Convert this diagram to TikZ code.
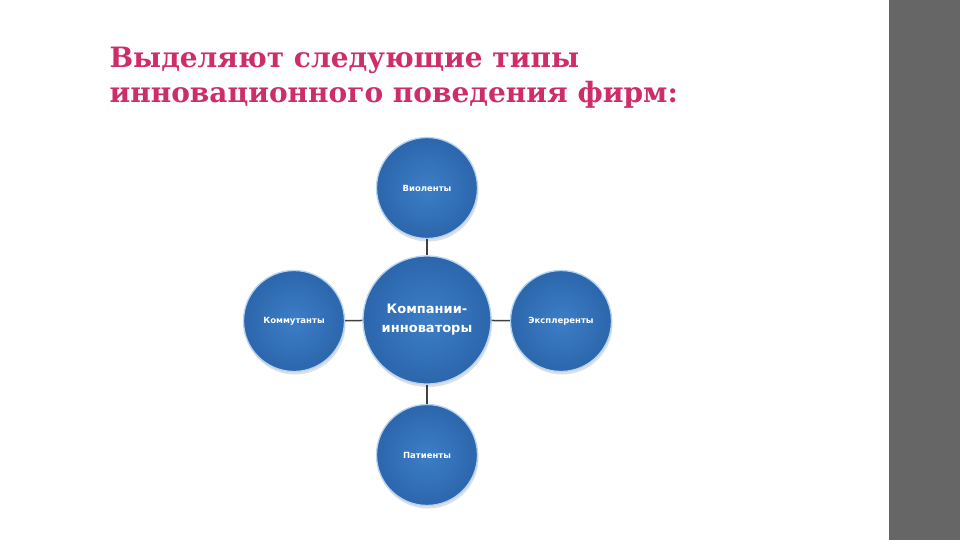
\documentclass[tikz,border=0pt]{standalone}
\usepackage{fontspec}
\setmainfont{DejaVu Serif}
\newfontfamily\circfont{DejaVu Sans}
\usetikzlibrary{shadows}
\definecolor{titlepink}{RGB}{205,45,105}
\definecolor{ballblue}{RGB}{60,126,198}
\definecolor{balldark}{RGB}{44,102,172}
\definecolor{ballrim}{RGB}{180,212,242}
\definecolor{bargray}{RGB}{102,102,102}
\tikzset{
  ball/.style={circle, draw=ballrim, line width=1.3pt, fill=ballblue,
    inner color=ballblue, outer color=balldark,
    text=white, font=\circfont\bfseries\fontsize{8.5}{10}\selectfont,
    align=center, inner sep=0pt,
    drop shadow={shadow xshift=1pt, shadow yshift=-3pt, opacity=0.25}},
  link/.style={draw=black!75, line width=1.5pt}
}
\begin{document}
\begin{tikzpicture}[x=1pt,y=-1pt]
\useasboundingbox (0,0) rectangle (960,540);
\fill[white] (0,0) rectangle (960,540);
\fill[bargray] (889,0) rectangle (960,540);
\node[anchor=base west, text=titlepink, font=\bfseries\fontsize{28}{33}\selectfont, align=left] (title) at (106,68) {Выделяют следующие типы};
\node[anchor=base west, text=titlepink, font=\bfseries\fontsize{28}{33}\selectfont, align=left] (title2) at (106,103) {инновационного поведения фирм:};

\node[ball, minimum size=128pt, font=\circfont\bfseries\fontsize{13}{19}\selectfont] (c) at (427,320) {Компании-\\инноваторы};
\node[ball, minimum size=101pt] (t) at (427,188) {Виоленты};
\node[ball, minimum size=101pt] (l) at (294,321) {Коммутанты};
\node[ball, minimum size=101pt] (r) at (561,321) {Эксплеренты};
\node[ball, minimum size=101pt] (b) at (427,455) {Патиенты};

\draw[link] (c) -- (t);
\draw[link] (c) -- (b);
\draw[link] (c) -- (l);
\draw[link] (c) -- (r);
\end{tikzpicture}
\end{document}
